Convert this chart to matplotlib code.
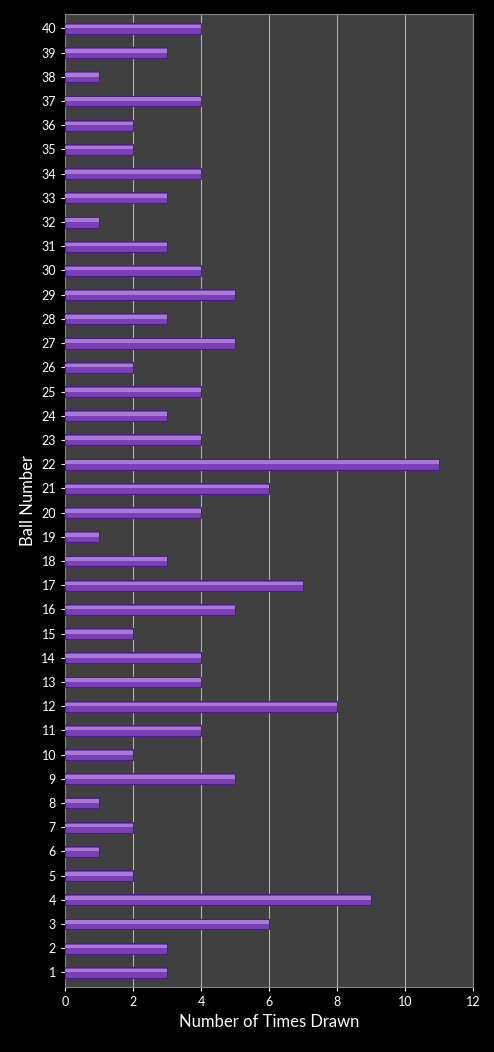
import matplotlib
matplotlib.use("Agg")
import matplotlib.pyplot as plt

balls = list(range(1, 41))
counts = [3, 3, 6, 9, 2, 1, 2, 1, 5, 2,
          4, 8, 4, 4, 2, 5, 7, 3, 1, 4,
          6, 11, 4, 3, 4, 2, 5, 3, 5, 4,
          3, 1, 3, 4, 2, 2, 4, 1, 3, 4]
xticks = [0, 2, 4, 6, 8, 10, 12]

plt.rcParams['font.family'] = ['Lato', 'DejaVu Sans']
fig = plt.figure(figsize=(4.94, 10.52), dpi=100, facecolor='black')
ax = fig.add_axes([0.1316, 0.0618, 0.826, 0.925])
ax.set_facecolor('#404040')
ax.barh(balls, counts, height=0.45, color='#7b3fb8', edgecolor='#4b1f80', linewidth=0.8, zorder=3)
ax.barh(balls, counts, height=0.15, left=0, color='#a77ad8', linewidth=0, zorder=4,
        align='edge')
ax.set_xlim(0, 12)
ax.set_ylim(0.4, 40.6)
ax.set_xticks(xticks)
ax.set_yticks(balls)
ax.grid(axis='x', color='#b0b0b0', linewidth=0.8, zorder=0)
ax.tick_params(colors='white', labelsize=9, length=3)
for s in ax.spines.values():
    s.set_color('#808080')
ax.set_xlabel('Number of Times Drawn', color='white', fontsize=12)
ax.set_ylabel('Ball Number', color='white', fontsize=12)
fig.savefig('out.png', dpi=100, facecolor='black')
